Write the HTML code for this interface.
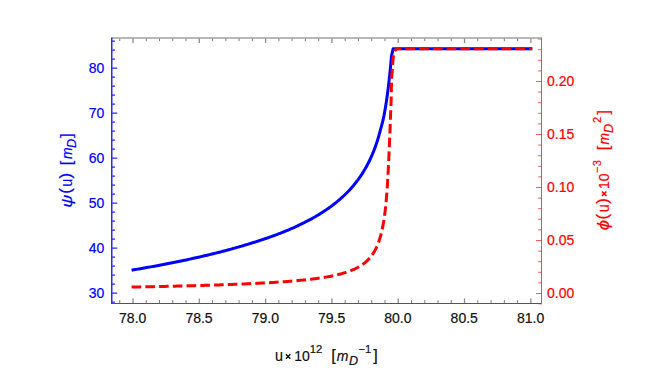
<!DOCTYPE html>
<html><head><meta charset="utf-8"><title>plot</title>
<style>html,body{margin:0;padding:0;background:#fff;}svg{display:block;}text{stroke-width:0.2px;}</style></head>
<body>
<svg width="654" height="375">
<rect width="654" height="375" fill="#fff"/>
<path d="M131.60 270.24 L132.55 270.02 L133.84 269.80 L135.14 269.59 L136.43 269.36 L137.72 269.14 L139.01 268.92 L140.30 268.70 L141.59 268.47 L142.88 268.25 L144.17 268.02 L145.45 267.80 L146.74 267.57 L148.02 267.34 L149.31 267.11 L150.59 266.88 L151.87 266.64 L153.15 266.41 L154.43 266.18 L155.71 265.94 L156.98 265.70 L158.26 265.47 L159.53 265.23 L160.81 264.99 L162.08 264.75 L163.35 264.50 L164.62 264.26 L165.89 264.02 L167.16 263.77 L168.42 263.52 L169.69 263.27 L170.95 263.03 L172.21 262.77 L173.48 262.52 L174.74 262.27 L175.99 262.02 L177.25 261.76 L178.51 261.50 L179.76 261.25 L181.02 260.99 L182.27 260.73 L183.52 260.46 L184.77 260.20 L186.02 259.94 L187.27 259.67 L188.51 259.40 L189.76 259.13 L191.00 258.86 L192.24 258.59 L193.48 258.32 L194.72 258.04 L195.96 257.77 L197.20 257.49 L198.43 257.21 L199.66 256.93 L200.90 256.65 L202.13 256.37 L203.35 256.08 L204.58 255.80 L205.81 255.51 L207.03 255.22 L208.25 254.93 L209.47 254.64 L210.69 254.34 L211.91 254.05 L213.12 253.75 L214.34 253.45 L215.55 253.15 L216.76 252.85 L217.97 252.54 L219.18 252.23 L220.38 251.93 L221.59 251.62 L222.79 251.31 L223.99 250.99 L225.19 250.68 L226.38 250.36 L227.58 250.04 L228.77 249.72 L229.96 249.40 L231.15 249.08 L232.34 248.75 L233.52 248.42 L234.70 248.09 L235.88 247.76 L237.06 247.42 L238.24 247.09 L239.42 246.75 L240.59 246.41 L241.76 246.07 L242.93 245.72 L244.09 245.37 L245.26 245.03 L246.42 244.67 L247.58 244.32 L248.74 243.97 L249.89 243.61 L251.04 243.26 L252.19 242.91 L253.34 242.55 L254.49 242.20 L255.63 241.84 L256.77 241.48 L257.91 241.11 L259.05 240.75 L260.18 240.38 L261.31 240.01 L262.44 239.64 L263.57 239.26 L264.69 238.88 L265.81 238.50 L266.93 238.12 L268.04 237.73 L269.15 237.34 L270.26 236.95 L271.37 236.55 L272.47 236.16 L273.58 235.75 L274.67 235.35 L275.77 234.94 L276.86 234.53 L277.95 234.12 L279.04 233.71 L280.12 233.29 L281.20 232.87 L282.28 232.44 L283.35 232.01 L284.42 231.58 L285.49 231.15 L286.55 230.71 L287.62 230.27 L288.67 229.82 L289.73 229.37 L290.78 228.92 L291.83 228.47 L292.87 228.01 L293.91 227.55 L294.95 227.08 L295.98 226.61 L297.01 226.14 L298.04 225.66 L299.06 225.18 L300.08 224.69 L301.09 224.21 L302.10 223.71 L303.11 223.22 L304.11 222.72 L305.11 222.21 L306.10 221.70 L307.09 221.19 L308.08 220.68 L309.06 220.15 L310.04 219.63 L311.01 219.10 L311.98 218.57 L312.95 218.03 L313.91 217.48 L314.86 216.94 L315.82 216.38 L316.76 215.83 L317.71 215.27 L318.64 214.70 L319.58 214.13 L320.50 213.55 L321.43 212.97 L322.35 212.39 L323.26 211.80 L324.17 211.20 L325.07 210.60 L325.97 210.00 L326.86 209.38 L327.75 208.77 L328.64 208.15 L329.51 207.52 L330.39 206.89 L331.25 206.25 L332.11 205.61 L332.97 204.96 L333.82 204.30 L334.67 203.64 L335.50 202.98 L336.34 202.30 L337.17 201.63 L337.99 200.94 L338.80 200.25 L339.61 199.56 L340.42 198.86 L341.22 198.15 L342.01 197.44 L342.79 196.72 L343.57 195.99 L344.35 195.26 L345.11 194.52 L345.87 193.77 L346.63 193.02 L347.38 192.26 L348.12 191.49 L348.85 190.72 L349.58 189.94 L350.30 189.16 L351.02 188.37 L351.72 187.57 L352.43 186.76 L353.12 185.95 L353.81 185.13 L354.49 184.30 L355.16 183.47 L355.83 182.63 L356.49 181.78 L357.14 180.93 L357.79 180.06 L358.43 179.19 L359.06 178.32 L359.69 177.43 L360.30 176.54 L360.91 175.64 L361.52 174.74 L362.11 173.83 L362.70 172.90 L363.28 171.98 L363.86 171.04 L364.42 170.10 L364.98 169.15 L365.54 168.19 L366.08 167.23 L366.62 166.25 L367.15 165.27 L367.67 164.29 L368.19 163.29 L368.70 162.29 L369.20 161.28 L369.69 160.26 L370.18 159.24 L370.66 158.21 L371.13 157.17 L371.60 156.12 L372.05 155.07 L372.50 154.00 L372.95 152.94 L373.38 151.86 L373.81 150.78 L374.24 149.69 L374.65 148.59 L375.06 147.48 L375.46 146.37 L375.86 145.25 L376.24 144.13 L376.62 143.00 L377.00 141.86 L377.37 140.71 L377.73 139.56 L378.08 138.40 L378.43 137.23 L378.77 136.06 L379.10 134.88 L379.43 133.69 L379.75 132.50 L380.07 131.30 L380.38 130.10 L380.73 128.88 L381.07 127.67 L381.42 126.44 L381.75 125.21 L382.08 123.98 L382.40 122.74 L382.72 121.49 L383.04 120.24 L383.31 118.98 L383.57 117.72 L383.82 116.45 L384.07 115.17 L384.31 113.89 L384.55 112.61 L384.78 111.32 L385.01 110.02 L385.23 108.72 L385.45 107.42 L385.67 106.11 L385.87 104.79 L386.08 103.47 L386.28 102.15 L386.47 100.82 L386.67 99.49 L386.87 98.15 L387.06 96.81 L387.25 95.46 L387.44 94.12 L387.62 92.76 L387.79 91.41 L387.97 90.04 L388.14 88.68 L388.30 87.31 L388.47 85.94 L388.63 84.56 L388.78 83.18 L388.94 81.80 L389.09 80.42 L389.24 79.03 L389.40 77.64 L389.56 76.24 L389.71 74.84 L389.86 73.44 L390.01 72.04 L390.15 70.63 L390.29 69.22 L390.43 67.81 L390.57 66.39 L390.70 64.97 L390.83 63.55 L390.96 62.13 L391.09 60.71 L391.21 59.28 L391.33 57.85 L391.45 56.42 L393.1 48.75 L532.25 48.75" fill="none" stroke="#0000ff" stroke-width="3" stroke-linejoin="round"/>
<path d="M131.60 287.05 L132.73 287.02 L134.21 286.99 L135.68 286.97 L137.16 286.94 L138.64 286.91 L140.11 286.89 L141.59 286.86 L143.06 286.83 L144.54 286.80 L146.02 286.77 L147.49 286.74 L148.97 286.71 L150.44 286.69 L151.92 286.66 L153.39 286.63 L154.86 286.60 L156.34 286.57 L157.81 286.53 L159.28 286.50 L160.76 286.47 L162.23 286.44 L163.70 286.41 L165.17 286.38 L166.64 286.34 L168.12 286.31 L169.59 286.28 L171.06 286.24 L172.53 286.21 L174.00 286.18 L175.47 286.14 L176.94 286.11 L178.40 286.07 L179.87 286.03 L181.34 286.00 L182.81 285.96 L184.28 285.93 L185.74 285.89 L187.21 285.85 L188.68 285.81 L190.14 285.77 L191.61 285.73 L193.07 285.69 L194.54 285.65 L196.00 285.61 L197.46 285.57 L198.93 285.53 L200.39 285.49 L201.85 285.45 L203.31 285.41 L204.77 285.36 L206.23 285.32 L207.69 285.27 L209.15 285.23 L210.61 285.18 L212.07 285.14 L213.52 285.09 L214.98 285.04 L216.44 284.99 L217.89 284.95 L219.35 284.90 L220.80 284.85 L222.26 284.80 L223.71 284.74 L225.16 284.69 L226.61 284.64 L228.06 284.59 L229.51 284.53 L230.96 284.48 L232.41 284.42 L233.86 284.37 L235.31 284.31 L236.75 284.25 L238.20 284.19 L239.64 284.13 L241.09 284.07 L242.53 284.01 L243.97 283.95 L245.41 283.88 L246.85 283.82 L248.29 283.75 L249.73 283.68 L251.16 283.62 L252.60 283.55 L254.03 283.48 L255.47 283.41 L256.90 283.33 L258.33 283.26 L259.76 283.18 L261.19 283.11 L262.61 283.04 L264.04 282.96 L265.46 282.88 L266.88 282.81 L268.31 282.73 L269.73 282.65 L271.14 282.56 L272.56 282.48 L273.97 282.39 L275.39 282.30 L276.80 282.21 L278.21 282.12 L279.62 282.03 L281.02 281.93 L282.43 281.84 L283.83 281.74 L285.23 281.64 L286.62 281.53 L288.02 281.43 L289.41 281.32 L290.80 281.21 L292.19 281.09 L293.57 280.98 L294.96 280.86 L296.34 280.74 L297.71 280.61 L299.09 280.48 L300.46 280.35 L301.83 280.22 L303.19 280.08 L304.55 279.94 L305.91 279.80 L307.27 279.65 L308.62 279.50 L309.96 279.34 L311.31 279.18 L312.65 279.02 L313.98 278.85 L315.31 278.68 L316.63 278.50 L317.96 278.32 L319.27 278.13 L320.58 277.94 L321.89 277.74 L323.19 277.54 L324.48 277.33 L325.77 277.11 L327.05 276.89 L328.32 276.66 L329.59 276.42 L330.85 276.18 L332.10 275.93 L333.35 275.67 L334.59 275.40 L335.82 275.13 L337.04 274.84 L338.25 274.55 L339.46 274.25 L340.65 273.93 L341.83 273.61 L343.01 273.28 L344.17 272.93 L345.32 272.58 L346.46 272.21 L347.59 271.83 L348.70 271.43 L349.81 271.03 L350.89 270.61 L351.97 270.17 L353.03 269.72 L354.08 269.26 L355.11 268.78 L356.12 268.28 L357.12 267.77 L358.10 267.24 L359.07 266.69 L360.02 266.12 L360.95 265.54 L361.86 264.93 L362.75 264.31 L363.63 263.67 L364.48 263.01 L365.32 262.32 L366.13 261.62 L366.93 260.90 L367.70 260.15 L368.46 259.38 L369.19 258.60 L369.90 257.79 L370.60 256.96 L371.27 256.11 L371.92 255.24 L372.55 254.34 L373.16 253.43 L373.75 252.50 L374.33 251.54 L374.88 250.57 L375.41 249.58 L375.93 248.56 L376.43 247.53 L376.91 246.49 L377.37 245.42 L377.81 244.34 L378.24 243.24 L378.65 242.12 L379.05 240.99 L379.44 239.84 L379.80 238.68 L380.16 237.51 L380.50 236.32 L380.83 235.12 L381.14 233.91 L381.45 232.68 L381.74 231.45 L382.02 230.20 L382.29 228.94 L382.56 227.68 L382.81 226.40 L383.05 225.11 L383.28 223.82 L383.51 222.51 L383.72 221.20 L383.93 219.88 L384.13 218.56 L384.33 217.23 L384.51 215.89 L384.69 214.54 L384.87 213.19 L385.04 211.83 L385.20 210.47 L385.36 209.10 L385.51 207.72 L385.66 206.34 L385.80 204.96 L385.93 203.57 L386.07 202.18 L386.20 200.79 L386.32 199.39 L386.44 197.98 L386.56 196.57 L386.67 195.16 L386.78 193.75 L386.89 192.33 L386.99 190.91 L387.09 189.49 L387.19 188.07 L387.28 186.64 L387.37 185.21 L387.46 183.78 L387.55 182.34 L387.63 180.90 L387.72 179.46 L387.81 178.02 L387.89 176.58 L387.98 175.13 L388.06 173.69 L388.14 172.24 L388.22 170.79 L388.30 169.34 L388.37 167.88 L388.45 166.43 L388.52 164.97 L388.59 163.51 L388.66 162.05 L388.73 160.59 L388.79 159.13 L388.86 157.67 L388.92 156.20 L388.98 154.74 L389.05 153.27 L389.11 151.80 L389.17 150.31 L389.23 148.77 L389.30 147.20 L389.38 145.59 L389.45 143.93 L389.52 142.23 L389.59 140.49 L389.67 138.70 L389.74 136.86 L389.82 134.97 L389.89 133.02 L389.97 131.02 L390.05 128.96 L390.13 126.84 L390.21 124.66 L390.29 122.41 L390.37 120.09 L390.46 117.69 L390.56 115.21 L390.66 112.66 L390.77 110.02 L390.87 107.28 L390.98 104.45 L391.09 101.52 L391.18 98.49 L391.24 95.34 L391.31 92.07 L391.37 88.67 L391.44 85.14 L391.51 81.46 L391.71 77.64 L391.99 73.64 L392.28 69.48 L392.59 65.13 L392.90 60.58 Q394.0 48.9 397 48.75 L401.5 48.75" fill="none" stroke="#ff0000" stroke-width="3" stroke-dasharray="9.6 4.15" stroke-dashoffset="0"/>
<path d="M401.5 48.75 L532.25 48.75" fill="none" stroke="#ff0000" stroke-width="3" stroke-dasharray="9.6 4.15" stroke-dashoffset="9.85"/>
<path d="M119.74 303.50 v-3.40 M146.26 303.50 v-3.40 M159.52 303.50 v-3.40 M172.78 303.50 v-3.40 M186.05 303.50 v-3.40 M212.57 303.50 v-3.40 M225.83 303.50 v-3.40 M239.09 303.50 v-3.40 M252.36 303.50 v-3.40 M278.88 303.50 v-3.40 M292.14 303.50 v-3.40 M305.40 303.50 v-3.40 M318.66 303.50 v-3.40 M345.19 303.50 v-3.40 M358.45 303.50 v-3.40 M371.71 303.50 v-3.40 M384.97 303.50 v-3.40 M411.49 303.50 v-3.40 M424.76 303.50 v-3.40 M438.02 303.50 v-3.40 M451.28 303.50 v-3.40 M477.80 303.50 v-3.40 M491.07 303.50 v-3.40 M504.33 303.50 v-3.40 M517.59 303.50 v-3.40 M119.74 38.10 v3.00 M146.26 38.10 v3.00 M159.52 38.10 v3.00 M172.78 38.10 v3.00 M186.05 38.10 v3.00 M212.57 38.10 v3.00 M225.83 38.10 v3.00 M239.09 38.10 v3.00 M252.36 38.10 v3.00 M278.88 38.10 v3.00 M292.14 38.10 v3.00 M305.40 38.10 v3.00 M318.66 38.10 v3.00 M345.19 38.10 v3.00 M358.45 38.10 v3.00 M371.71 38.10 v3.00 M384.97 38.10 v3.00 M411.49 38.10 v3.00 M424.76 38.10 v3.00 M438.02 38.10 v3.00 M451.28 38.10 v3.00 M477.80 38.10 v3.00 M491.07 38.10 v3.00 M504.33 38.10 v3.00 M517.59 38.10 v3.00" stroke="#444" stroke-width="0.7" fill="none"/>
<path d="M133.00 303.50 v-5.00 M199.31 303.50 v-5.00 M265.62 303.50 v-5.00 M331.93 303.50 v-5.00 M398.23 303.50 v-5.00 M464.54 303.50 v-5.00 M530.85 303.50 v-5.00 M133.00 38.10 v4.80 M199.31 38.10 v4.80 M265.62 38.10 v4.80 M331.93 38.10 v4.80 M398.23 38.10 v4.80 M464.54 38.10 v4.80 M530.85 38.10 v4.80" stroke="#8c8c8c" stroke-width="1.3" fill="none"/>
<path d="M111.75 302.10 h3.30 M111.75 293.10 h5.50 M111.75 284.10 h3.30 M111.75 275.10 h3.30 M111.75 266.10 h3.30 M111.75 257.10 h3.30 M111.75 248.10 h5.50 M111.75 239.10 h3.30 M111.75 230.10 h3.30 M111.75 221.10 h3.30 M111.75 212.10 h3.30 M111.75 203.10 h5.50 M111.75 194.10 h3.30 M111.75 185.10 h3.30 M111.75 176.10 h3.30 M111.75 167.10 h3.30 M111.75 158.10 h5.50 M111.75 149.10 h3.30 M111.75 140.10 h3.30 M111.75 131.10 h3.30 M111.75 122.10 h3.30 M111.75 113.10 h5.50 M111.75 104.10 h3.30 M111.75 95.10 h3.30 M111.75 86.10 h3.30 M111.75 77.10 h3.30 M111.75 68.10 h5.50 M111.75 59.10 h3.30 M111.75 50.10 h3.30 M111.75 41.10 h3.30" stroke="#2a2aff" stroke-width="1.2" fill="none"/>
<path d="M541.50 293.50 h-5.50 M541.50 282.90 h-3.40 M541.50 272.30 h-3.40 M541.50 261.70 h-3.40 M541.50 251.10 h-3.40 M541.50 240.50 h-5.50 M541.50 229.90 h-3.40 M541.50 219.30 h-3.40 M541.50 208.70 h-3.40 M541.50 198.10 h-3.40 M541.50 187.50 h-5.50 M541.50 176.90 h-3.40 M541.50 166.30 h-3.40 M541.50 155.70 h-3.40 M541.50 145.10 h-3.40 M541.50 134.50 h-5.50 M541.50 123.90 h-3.40 M541.50 113.30 h-3.40 M541.50 102.70 h-3.40 M541.50 92.10 h-3.40 M541.50 81.50 h-5.50 M541.50 70.90 h-3.40 M541.50 60.30 h-3.40 M541.50 49.70 h-3.40 M541.50 39.10 h-3.40 M541.50 303.80 h-3.4" stroke="#ff4646" stroke-width="0.9" fill="none"/>
<path d="M111.75 38.10 H541.50" stroke="#a0a0a0" stroke-width="1.5" fill="none"/>
<path d="M111.75 303.50 H541.50" stroke="#555" stroke-width="1" fill="none"/>
<path d="M111.75 37.60 V304.00" stroke="#2a2aff" stroke-width="1.5" fill="none"/>
<path d="M541.50 37.60 V304.30" stroke="#ff4646" stroke-width="1" fill="none"/>
<g font-family="Liberation Sans, sans-serif" font-size="14px">
<text x="132.70" y="323.4" text-anchor="middle" fill="#111" stroke="#111">78.0</text>
<text x="199.01" y="323.4" text-anchor="middle" fill="#111" stroke="#111">78.5</text>
<text x="265.32" y="323.4" text-anchor="middle" fill="#111" stroke="#111">79.0</text>
<text x="331.62" y="323.4" text-anchor="middle" fill="#111" stroke="#111">79.5</text>
<text x="397.93" y="323.4" text-anchor="middle" fill="#111" stroke="#111">80.0</text>
<text x="464.24" y="323.4" text-anchor="middle" fill="#111" stroke="#111">80.5</text>
<text x="530.55" y="323.4" text-anchor="middle" fill="#111" stroke="#111">81.0</text>
<text x="104.4" y="298.30" text-anchor="end" fill="#0000ff" stroke="#0000ff">30</text>
<text x="104.4" y="253.30" text-anchor="end" fill="#0000ff" stroke="#0000ff">40</text>
<text x="104.4" y="208.30" text-anchor="end" fill="#0000ff" stroke="#0000ff">50</text>
<text x="104.4" y="163.30" text-anchor="end" fill="#0000ff" stroke="#0000ff">60</text>
<text x="104.4" y="118.30" text-anchor="end" fill="#0000ff" stroke="#0000ff">70</text>
<text x="104.4" y="73.30" text-anchor="end" fill="#0000ff" stroke="#0000ff">80</text>
<text x="547" y="298.30" fill="#ff0000" stroke="#ff0000">0.00</text>
<text x="547" y="245.30" fill="#ff0000" stroke="#ff0000">0.05</text>
<text x="547" y="192.30" fill="#ff0000" stroke="#ff0000">0.10</text>
<text x="547" y="139.30" fill="#ff0000" stroke="#ff0000">0.15</text>
<text x="547" y="86.30" fill="#ff0000" stroke="#ff0000">0.20</text>
<g fill="#111" color="#111" transform="translate(0 360.8)">
<text transform="translate(274.90 0.20) scale(0.9 1)" font-size="16px" stroke="currentColor">u</text>
<path d="M285.90 -6.50 l4.40 4.40 M285.90 -2.10 l4.40 -4.40" stroke="currentColor" stroke-width="1.5" fill="none"/>
<text transform="translate(294.25 0.00)" font-size="14px" stroke="currentColor">10</text>
<text transform="translate(309.82 -7.90)" font-size="11.2px" stroke="currentColor">12</text>
<text transform="translate(331.25 0.00)" font-size="16.2px" stroke="currentColor">[</text>
<text transform="translate(336.68 -0.20)" font-size="14px" stroke="currentColor" font-style="italic">m</text>
<text transform="translate(348.98 3.80) scale(1.05 1)" font-size="12px" stroke="currentColor" font-style="italic">D</text>
<text transform="translate(358.48 -7.90)" font-size="11.2px" stroke="currentColor">−1</text>
<text transform="translate(373.25 0.00)" font-size="16.2px" stroke="currentColor">]</text>
</g>
<g fill="#0000ff" color="#0000ff" transform="translate(72.1 0) rotate(-90)">
<text transform="translate(-207.75 0.00) scale(1.2 1)" font-size="15px" stroke="currentColor" font-style="italic">ψ</text>
<text transform="translate(-193.75 -0.80)" font-size="17px" stroke="currentColor">(</text>
<text transform="translate(-186.80 0.20) scale(0.9 1)" font-size="16px" stroke="currentColor">u</text>
<text transform="translate(-178.47 -0.80)" font-size="17px" stroke="currentColor">)</text>
<text transform="translate(-165.25 0.00)" font-size="16.2px" stroke="currentColor">[</text>
<text transform="translate(-159.12 -0.20)" font-size="14px" stroke="currentColor" font-style="italic">m</text>
<text transform="translate(-147.93 3.80) scale(1.05 1)" font-size="12px" stroke="currentColor" font-style="italic">D</text>
<text transform="translate(-137.85 0.00)" font-size="16.2px" stroke="currentColor">]</text>
</g>
<g fill="#ff0000" color="#ff0000" transform="translate(609.2 0) rotate(-90)">
<text transform="translate(-230.22 0.00) scale(1.12 1)" font-size="16.5px" stroke="currentColor" font-style="italic">ϕ</text>
<text transform="translate(-219.55 -0.80)" font-size="17px" stroke="currentColor">(</text>
<text transform="translate(-212.30 0.20) scale(0.9 1)" font-size="16px" stroke="currentColor">u</text>
<text transform="translate(-203.78 -0.80)" font-size="17px" stroke="currentColor">)</text>
<path d="M-195.90 -7.20 l4.40 4.40 M-195.90 -2.80 l4.40 -4.40" stroke="currentColor" stroke-width="1.5" fill="none"/>
<text transform="translate(-189.00 0.00)" font-size="14px" stroke="currentColor">10</text>
<text transform="translate(-172.88 -7.90)" font-size="11.2px" stroke="currentColor">−3</text>
<text transform="translate(-150.35 0.00)" font-size="16.2px" stroke="currentColor">[</text>
<text transform="translate(-144.53 -0.20)" font-size="14px" stroke="currentColor" font-style="italic">m</text>
<text transform="translate(-133.03 3.80) scale(1.05 1)" font-size="12px" stroke="currentColor" font-style="italic">D</text>
<text transform="translate(-123.03 -7.90)" font-size="11.2px" stroke="currentColor">2</text>
<text transform="translate(-114.55 0.00)" font-size="16.2px" stroke="currentColor">]</text>
</g>
</g>
</svg>
</body></html>
